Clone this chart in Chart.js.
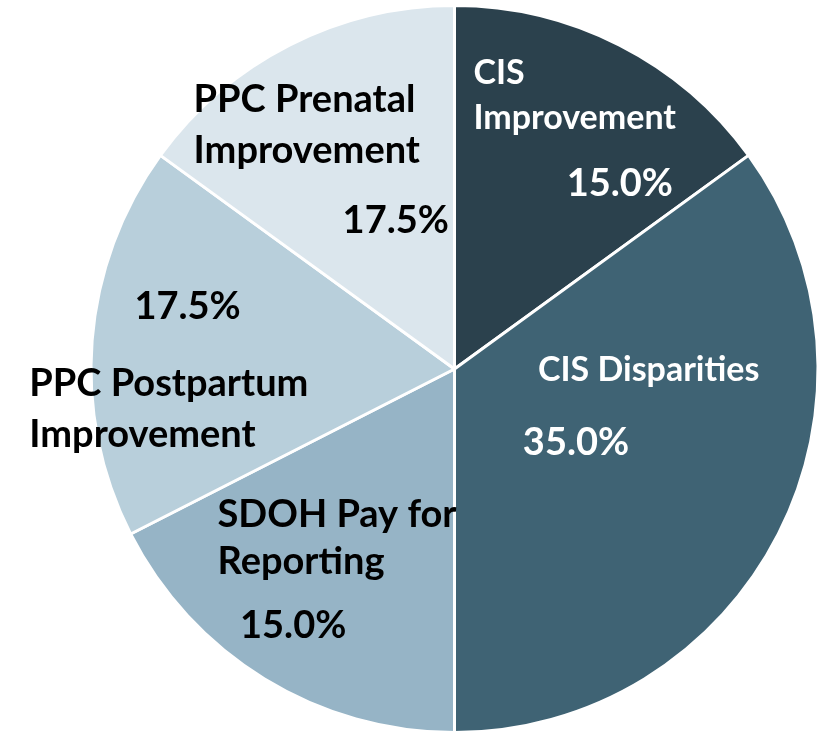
<!DOCTYPE html>
<html lang="en">
<head>
  <meta charset="UTF-8" />
  <title>Incentive Weighting</title>
  <script src="https://cdn.jsdelivr.net/npm/chart.js"></script>
  <style>
    body {
      margin: 0;
      padding: 0;
      background: #fff;
    }
    #pieChart {
      display: block;
    }
  </style>
</head>
<body>
  <canvas id="pieChart" width="825" height="734"></canvas>

  <script>
    // slices, clockwise from 12 o'clock
    const categories = ['CIS Improvement', 'CIS Disparities', 'SDOH Pay for Reporting', 'PPC Postpartum Improvement', 'PPC Prenatal Improvement'];
    const weights = [15, 35, 17.5, 17.5, 15];
    // percentage text as printed on each slice
    const pctLabels = ['15.0%', '35.0%', '15.0%', '17.5%', '17.5%'];
    const nameLines = [['CIS', 'Improvement'], ['CIS Disparities'], ['SDOH Pay for', 'Reporting'], ['PPC Postpartum', 'Improvement'], ['PPC Prenatal', 'Improvement']];
    const sliceColors = ['#2b414d', '#3f6374', '#96b4c6', '#b8cfdb', '#dbe6ed'];
    const textColors = ['#ffffff', '#ffffff', '#000000', '#000000', '#000000'];

    // label placement relative to pie centre, in px for a 365px radius
    const labelLayout = [
      { x: 19, y: -297, lh: 45, align: 'left', size: 34, px: 166, py: -186 },
      { x: 195, y: 1, lh: 45, align: 'center', size: 34, px: 122, py: 74 },
      { x: -238, y: 146, lh: 48, align: 'left', size: 38, px: -162, py: 258 },
      { x: -427, y: 15, lh: 51, align: 'left', size: 38, px: -268, py: -63 },
      { x: -262, y: -270, lh: 51, align: 'left', size: 38, px: -59, py: -149 }
    ];

    const sliceLabels = {
      id: 'sliceLabels',
      afterDraw(chart) {
        const arc = chart.getDatasetMeta(0).data[0];
        const cx = arc.x, cy = arc.y, k = arc.outerRadius / 365;
        const ctx = chart.ctx;
        ctx.save();
        ctx.textBaseline = 'middle';
        labelLayout.forEach((l, i) => {
          ctx.fillStyle = textColors[i];
          ctx.font = 'bold ' + l.size + 'px Lato, "Open Sans", sans-serif';
          ctx.textAlign = l.align;
          nameLines[i].forEach((line, j) => {
            ctx.fillText(line, cx + l.x * k, cy + (l.y + j * l.lh) * k);
          });
          ctx.font = 'bold 38px Lato, "Open Sans", sans-serif';
          ctx.textAlign = 'center';
          ctx.fillText(pctLabels[i], cx + l.px * k, cy + l.py * k);
        });
        ctx.restore();
      }
    };

    new Chart(document.getElementById('pieChart'), {
      type: 'pie',
      data: {
        labels: categories,
        datasets: [{
          data: weights,
          backgroundColor: sliceColors,
          borderColor: '#ffffff',
          borderWidth: 3
        }]
      },
      options: {
        responsive: false,
        animation: false,
        layout: { padding: { left: 86, right: 2, top: 4, bottom: -2 } },
        plugins: {
          legend: { display: false },
          tooltip: { enabled: false }
        }
      },
      plugins: [sliceLabels]
    });
  </script>
</body>
</html>
